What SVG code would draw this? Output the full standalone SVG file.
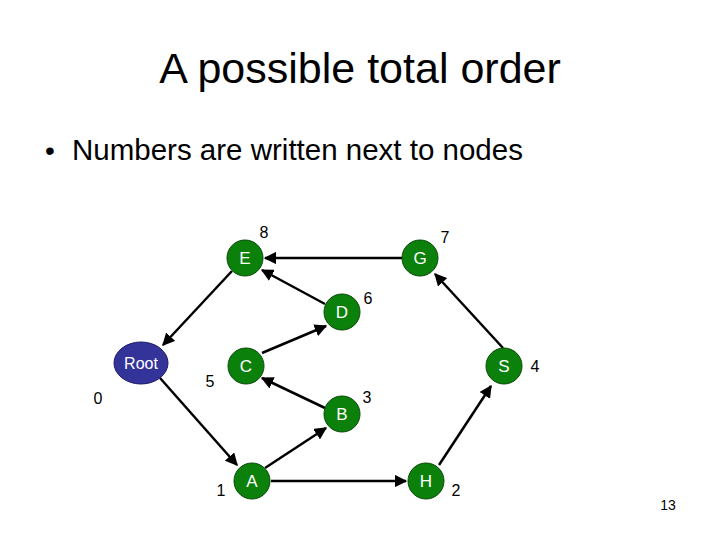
<svg xmlns="http://www.w3.org/2000/svg" width="720" height="540" viewBox="0 0 720 540">
<style>
text{font-family:"Liberation Sans",Arial,sans-serif}
.n circle{fill:#0b800b;stroke:#0a4a0a;stroke-width:1}
.n text{fill:#fff;font-size:17px;text-anchor:middle}
.num{font-size:16px;fill:#000;text-anchor:middle}
.e line{stroke:#000;stroke-width:2.5;marker-end:url(#ah)}
</style>
<defs><marker id="ah" viewBox="0 0 10 10" refX="9" refY="5" markerWidth="5" markerHeight="5" orient="auto" markerUnits="strokeWidth"><path d="M0,0L10,5L0,10z" fill="#000"/></marker></defs>
<rect width="720" height="540" fill="#fff"/>
<text x="360" y="83" font-size="43" text-anchor="middle">A possible total order</text>
<text x="45" y="160" font-size="28">•</text>
<text x="72" y="160" font-size="29.5">Numbers are written next to nodes</text>
<g class="e">
<line x1="402" y1="258" x2="265" y2="258"/>
<line x1="325" y1="304" x2="262" y2="270"/>
<line x1="232" y1="271" x2="163" y2="345"/>
<line x1="160" y1="378" x2="237" y2="465"/>
<line x1="265" y1="468" x2="326" y2="428"/>
<line x1="325" y1="408" x2="262" y2="378"/>
<line x1="262" y1="353" x2="326" y2="326"/>
<line x1="271" y1="481" x2="406" y2="481"/>
<line x1="439" y1="465" x2="491" y2="386"/>
<line x1="503" y1="348" x2="435" y2="274"/>
</g>
<g id="Root"><ellipse cx="141" cy="363" rx="27" ry="21" fill="#333399" stroke="#1a1a66"/><text x="141" y="369" font-size="16" fill="#fff" text-anchor="middle">Root</text></g>
<g id="E" class="n"><circle cx="245" cy="258" r="18"/><text x="245" y="264">E</text></g>
<g id="G" class="n"><circle cx="420" cy="258" r="18"/><text x="420" y="264">G</text></g>
<g id="D" class="n"><circle cx="342" cy="312" r="18"/><text x="342" y="318">D</text></g>
<g id="C" class="n"><circle cx="246" cy="366" r="18"/><text x="246" y="372">C</text></g>
<g id="B" class="n"><circle cx="342" cy="414" r="18"/><text x="342" y="420">B</text></g>
<g id="A" class="n"><circle cx="252" cy="481" r="18"/><text x="252" y="487">A</text></g>
<g id="H" class="n"><circle cx="426" cy="481" r="18"/><text x="426" y="487">H</text></g>
<g id="S" class="n"><circle cx="504" cy="366" r="18"/><text x="504" y="372">S</text></g>
<text class="num" x="264" y="238">8</text>
<text class="num" x="445" y="243">7</text>
<text class="num" x="368" y="304">6</text>
<text class="num" x="210" y="387">5</text>
<text class="num" x="98" y="404">0</text>
<text class="num" x="367" y="403">3</text>
<text class="num" x="535" y="372">4</text>
<text class="num" x="221" y="496">1</text>
<text class="num" x="456" y="496">2</text>
<text x="668" y="510" font-size="14" text-anchor="middle">13</text>
</svg>
